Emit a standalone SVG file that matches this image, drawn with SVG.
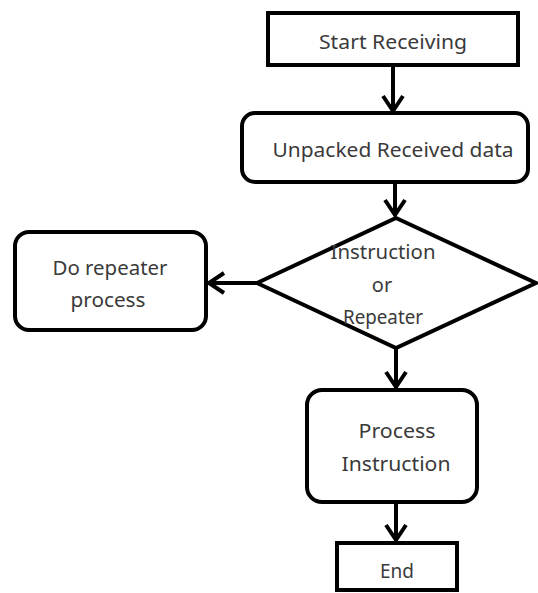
<svg xmlns="http://www.w3.org/2000/svg" width="538" height="593" viewBox="0 0 538 593">
<defs>
<style>
.box{fill:#fff;stroke:#000;stroke-width:4}
.ln{fill:none;stroke:#000;stroke-width:4}
.hd{fill:none;stroke:#000;stroke-width:4;stroke-linejoin:miter}
text{font-family:"Noto Sans","Open Sans",sans-serif;font-size:20px;fill:#3a3a3a;text-anchor:middle}
</style>
</defs>
<rect width="538" height="593" fill="#fff"/>
<g id="connectors">
<path class="ln" d="M393 65 V113"/>
<path class="hd" d="M383 96 L393 111 L403 96"/>
<path class="ln" d="M395 182 V216"/>
<path class="hd" d="M385 200 L395 215 L405 200"/>
<path class="ln" d="M257 283 H209"/>
<path class="hd" d="M224 273 L209 283 L224 293"/>
<path class="ln" d="M396 348 V388"/>
<path class="hd" d="M386 372 L396 387 L406 372"/>
<path class="ln" d="M396 502 V541"/>
<path class="hd" d="M386 525 L396 540 L406 525"/>
</g>
<g id="start">
<rect class="box" x="268" y="13" width="250" height="52"/>
<text x="393" y="49" textLength="148" lengthAdjust="spacingAndGlyphs">Start Receiving</text>
</g>
<g id="unpack">
<rect class="box" x="242" y="113" width="286" height="69" rx="13"/>
<text x="393" y="157" textLength="241" lengthAdjust="spacingAndGlyphs">Unpacked Received data</text>
</g>
<g id="decision">
<polygon class="box" points="396,218 536,283 396,348 257,283"/>
<text x="383" y="259" textLength="105" lengthAdjust="spacingAndGlyphs">Instruction</text>
<text x="382" y="292">or</text>
<text x="383" y="324" textLength="80" lengthAdjust="spacingAndGlyphs">Repeater</text>
</g>
<g id="repeater">
<rect class="box" x="15" y="232" width="191" height="98" rx="14"/>
<text x="110" y="275" textLength="115" lengthAdjust="spacingAndGlyphs">Do repeater</text>
<text x="108" y="307" textLength="75" lengthAdjust="spacingAndGlyphs">process</text>
</g>
<g id="process">
<rect class="box" x="307" y="390" width="170" height="112" rx="15"/>
<text x="397" y="438" textLength="77" lengthAdjust="spacingAndGlyphs">Process</text>
<text x="396" y="471" textLength="109" lengthAdjust="spacingAndGlyphs">Instruction</text>
</g>
<g id="end">
<rect class="box" x="337" y="543" width="120" height="47"/>
<text x="397" y="578" textLength="34" lengthAdjust="spacingAndGlyphs">End</text>
</g>
</svg>
